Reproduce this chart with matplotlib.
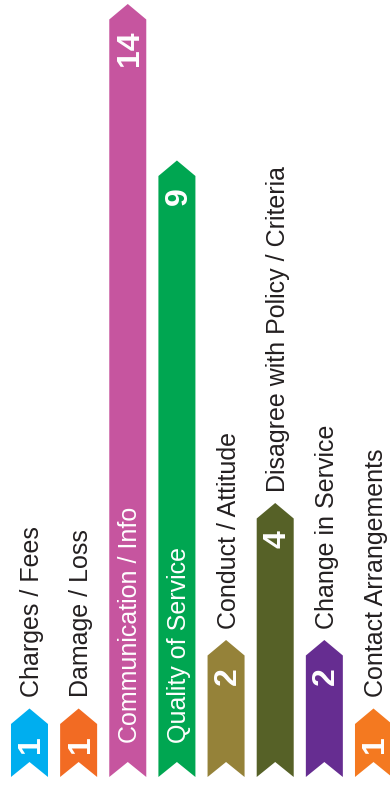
# Complaint categories drawn as ribbon-style bars (arrow top, notched foot)

import matplotlib
matplotlib.use("Agg")
import matplotlib.pyplot as plt
from matplotlib.patches import Polygon

categories = ["Charges / Fees", "Damage / Loss", "Communication / Info",
              "Quality of Service", "Conduct / Attitude",
              "Disagree with Policy / Criteria", "Change in Service",
              "Contact Arrangements"]
counts = [1, 1, 14, 9, 2, 4, 2, 1]
colours = ["#00AEEF", "#F26B23", "#C6559F", "#00A651", "#958239",
           "#566127", "#662D91", "#F47920"]

fig = plt.figure(figsize=(3.9, 7.87), dpi=100)
ax = fig.add_axes([0, 0, 1, 1])
ax.set_xlim(-0.600, 7.336)
ax.set_ylim(-0.146, 11.343)
ax.axis("off")

# pixel -> data unit helpers
px_x = 1 / 49.14
px_y = 1 / 68.5
top_cap = 11.285   # tallest ribbon is cut to fit the page
half = 0.753 / 2
font = ["Liberation Sans", "DejaVu Sans"]

for i, (name, n, col) in enumerate(zip(categories, counts, colours)):
    top = min(n, top_cap)
    pts = [(i - half, 0), (i - half, top - 15.5 * px_y), (i, top),
           (i + half, top - 15.5 * px_y), (i + half, 0), (i, 15 * px_y)]
    ax.add_patch(Polygon(pts, closed=True, fc=col, ec="none"))

    # value near the tip
    ax.text(i + 10 * px_x, top - 27 * px_y, str(n), rotation=90,
            rotation_mode="anchor", ha="right", va="baseline",
            color="white", fontsize=23, fontweight="bold", family=font)

    # category name: inside tall ribbons, above short ones
    if n > 5:
        ax.text(i + 9.5 * px_x, 34 * px_y, name, rotation=90,
                rotation_mode="anchor", ha="left", va="baseline",
                color="white", fontsize=18, family=font)
    else:
        ax.text(i + 9.5 * px_x, top + 11 * px_y, name, rotation=90,
                rotation_mode="anchor", ha="left", va="baseline",
                color="#231F20", fontsize=18, family=font)

fig.savefig("out.png", dpi=100)
